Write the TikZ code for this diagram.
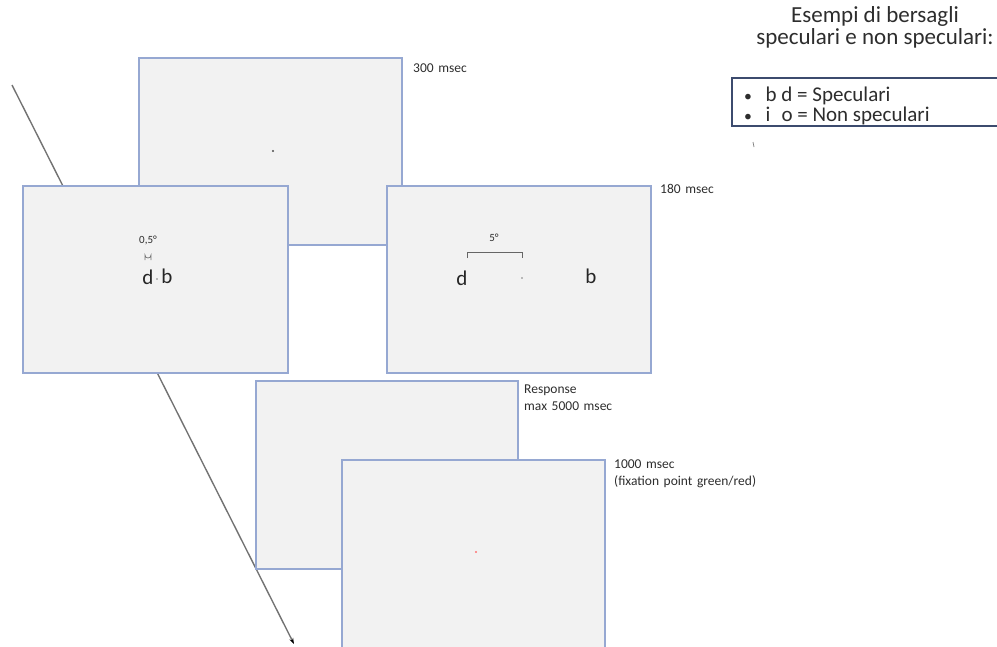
\documentclass[tikz,border=0pt]{standalone}
\usepackage{fontspec}
\setmainfont{Carlito}
\newfontfamily\lblfont[WordSpace=1.5]{Carlito}
\usetikzlibrary{arrows.meta}
\definecolor{scrfill}{RGB}{242,242,242}
\definecolor{scrdraw}{RGB}{150,168,210}
\definecolor{boxdraw}{RGB}{60,75,110}
\definecolor{txt}{RGB}{45,45,45}
\tikzset{
  screen/.style={draw=scrdraw, fill=scrfill, line width=1.15pt},
  lbl/.style={anchor=north west, inner sep=0pt, font=\lblfont\fontsize{13.5}{17}\selectfont, text=txt, align=left},
  letter/.style={inner sep=0pt, font=\fontsize{21}{21}\selectfont, text=black!85},
  legend/.style={inner sep=0pt, font=\fontsize{21}{21}\selectfont, text=txt, align=left, anchor=west},
}
\begin{document}
\begin{tikzpicture}[x=1pt,y=-1pt]
\useasboundingbox (0,0) rectangle (997,646);
\clip (0,0) rectangle (997,646);
% timeline
\coordinate (t0) at (12,85);
\coordinate (t1) at (294,644);
\draw[black!55, line width=1.4pt, -{Stealth[length=6pt,width=4pt,black]}] (t0) -- (t1);
% screens
\draw[screen] (139,58) rectangle (402,245);
\node[lbl] (la) at (413,64) {300 msec};
\fill[black!70] (273,151) circle (1.1);
\draw[screen] (23,186) rectangle (288,373);
\node[inner sep=0pt, font=\fontsize{11}{11}\selectfont, text=txt] (half) at (148,240) {0,5°};
\draw[black!55, line width=0.7pt] (145,260) -- (145,255) arc (180:0:3) -- (151,260);
\node[letter] (d1) at (148,277) {d};
\fill[gray] (157,279) circle (0.8);
\node[letter] (b1) at (167,276) {b};
\draw[screen] (387,186) rectangle (651,373);
\node[lbl] (lc) at (660,184) {180 msec};
\draw[black!60, line width=1pt] (467,258) -- (467,252) -- (522,252) -- (522,258);
\node[inner sep=0pt, font=\fontsize{11}{11}\selectfont, text=txt] (five) at (494,238) {5°};
\node[letter] (d2) at (462,278) {d};
\fill[gray] (522,278) circle (0.8);
\node[letter] (b2) at (591,276) {b};
\draw[screen] (256,381) rectangle (518,569);
\node[lbl] (ld) at (524,385) {Response\\max 5000 msec};
\draw[screen] (342,460) rectangle (605,660);
\node[lbl] (le) at (614,460) {1000 msec\\(fixation point green/red)};
\fill[red!55] (476,552) circle (1.2);
% legend
\node[inner sep=0pt, font=\fontsize{23}{22}\selectfont, text=txt, align=center] (title) at (875,27) {Esempi di bersagli\\speculari e non speculari:};
\draw[boxdraw, line width=1.1pt, fill=white] (1000,126) -- (732,126) -- (732,78) -- (1000,78);
\node[legend] (l1) at (744,96) {\scalebox{0.75}{•}\hspace{0.65em}b d = Speculari};
\node[legend] (l2) at (744,116) {\scalebox{0.75}{•}\hspace{0.65em}i\hspace{0.3em} o = Non speculari};
\draw[gray, line width=0.7pt] (753,142) -- (754,147);
\end{tikzpicture}
\end{document}
